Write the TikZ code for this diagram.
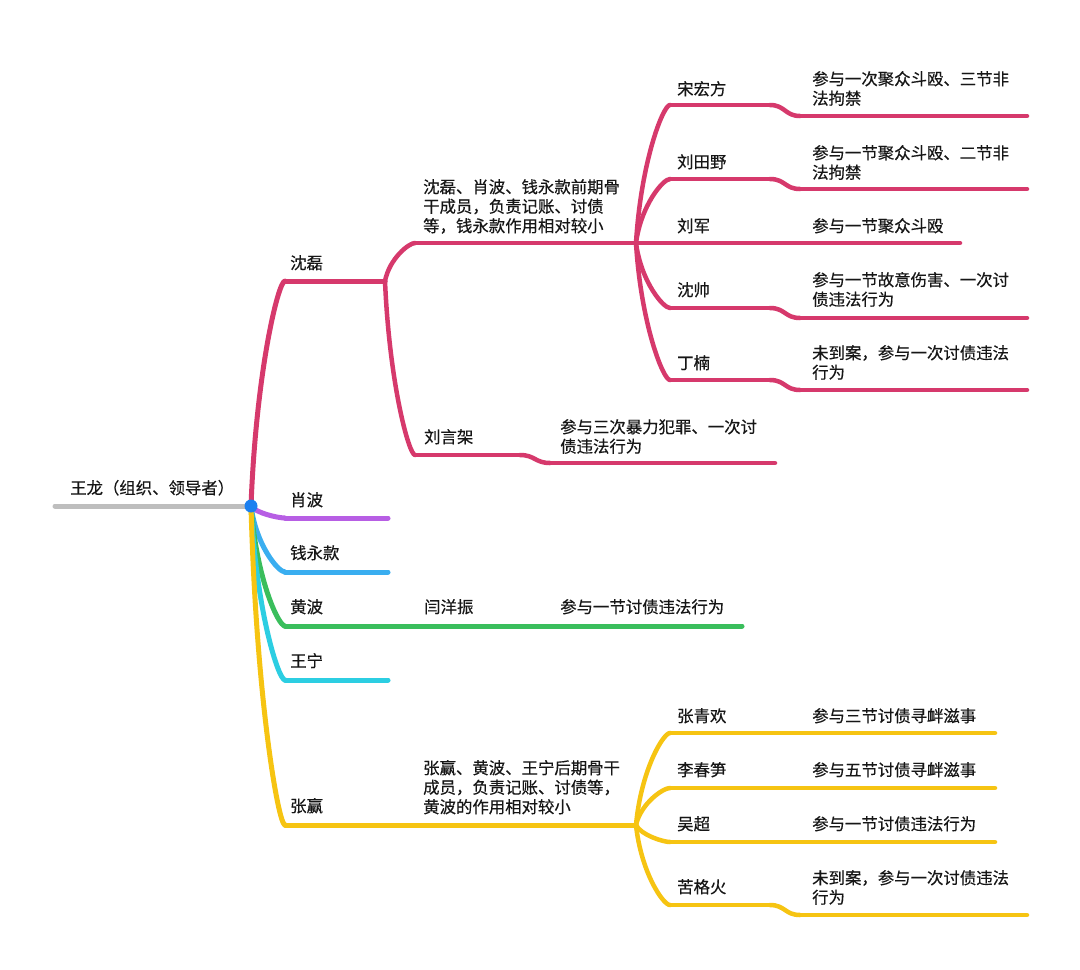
\documentclass[tikz,border=0pt]{standalone}
\usepackage{fontspec}
\setmainfont{Noto Sans CJK SC}[FakeBold=0.4]
\usetikzlibrary{calc}
\definecolor{rose}{RGB}{214,57,108}
\definecolor{lilac}{RGB}{183,94,228}
\definecolor{sky}{RGB}{58,174,240}
\definecolor{leaf}{RGB}{58,190,92}
\definecolor{aqua}{RGB}{44,206,226}
\definecolor{gold}{RGB}{246,196,18}
\definecolor{stem}{RGB}{190,190,190}
\definecolor{hub}{RGB}{28,128,240}
\definecolor{ink}{RGB}{22,22,22}
\def\branch[#1](#2)(#3){\draw[#1] (#2) .. controls ($(#2)!0.7!(#2|-#3)!0.15!(#2-|#3)$) and ($(#2|-#3)!0.8!(#3)$) .. (#3);}
\def\dip[#1](#2)(#3){\draw[#1] (#2) .. controls ($(#2)!0.5!(#2-|#3)$) and ($(#3)!0.5!(#3-|#2)$) .. (#3);}

\begin{document}
\begin{tikzpicture}[x=1pt,y=-1pt,line cap=round,
  lvA/.style={line width=5pt},
  lvB/.style={line width=4.5pt},
  txt/.style={inner sep=0pt,anchor=base west,align=left,text=ink,font=\fontsize{16.4}{19.5}\selectfont}]
			%%%%% START %%%%%
			\useasboundingbox[fill=white] (0,0) rectangle (1080,970);
			
			\coordinate (stemL) at (55,506);
			\coordinate (root) at (251,506);
			
			\coordinate (sl) at (285,281);   \coordinate (slk) at (385,281);
			\coordinate (xb) at (285,518);   \coordinate (xbe) at (388,518);
			\coordinate (qk) at (285,572);   \coordinate (qke) at (388,572);
			\coordinate (hb) at (285,626);   \coordinate (hbe) at (742,626);
			\coordinate (wn) at (285,680);   \coordinate (wne) at (388,680);
			\coordinate (zy) at (285,825);   \coordinate (zyk) at (636,825);
			
			\coordinate (qq) at (415,243);   \coordinate (qqk) at (636,243);
			\coordinate (lyj) at (415,455);  \coordinate (lyjk) at (520,455);
			\coordinate (lyjt) at (550,463); \coordinate (lyje) at (775,463);
			
			\coordinate (shf) at (670,105);  \coordinate (shfk) at (770,105);
			\coordinate (shft) at (800,116); \coordinate (shfe) at (1027,116);
			\coordinate (lty) at (670,179);  \coordinate (ltyk) at (770,179);
			\coordinate (ltyt) at (800,189); \coordinate (ltye) at (1027,189);
			\coordinate (lje) at (960,243);
			\coordinate (ss) at (670,308);   \coordinate (ssk) at (770,308);
			\coordinate (sst) at (800,318);  \coordinate (sse) at (1027,318);
			\coordinate (dn) at (670,380);   \coordinate (dnk) at (770,380);
			\coordinate (dnt) at (800,390);  \coordinate (dne) at (1027,390);
			
			\coordinate (zqh) at (670,733);  \coordinate (zqhe) at (995,733);
			\coordinate (lcs) at (670,788);  \coordinate (lcse) at (995,788);
			\coordinate (wc) at (670,842);   \coordinate (wce) at (995,842);
			\coordinate (kgh) at (670,905);  \coordinate (kghk) at (770,905);
			\coordinate (kght) at (800,915); \coordinate (kghe) at (1027,915);
			
			% trunk
			\draw[lvA, stem] (stemL) -- (root);
			
			% first level
			\branch[lvA, rose](root)(sl);
			\draw[lvA, rose] (sl) -- (slk);
			\branch[lvA, lilac](root)(xb);
			\draw[lvA, lilac] (xb) -- (xbe);
			\branch[lvA, sky](root)(qk);
			\draw[lvA, sky] (qk) -- (qke);
			\branch[lvA, leaf](root)(hb);
			\draw[lvA, leaf] (hb) -- (hbe);
			\branch[lvA, aqua](root)(wn);
			\draw[lvA, aqua] (wn) -- (wne);
			\branch[lvA, gold](root)(zy);
			\draw[lvA, gold] (zy) -- (zyk);
			
			% shen lei
			\branch[lvB, rose](slk)(qq);
			\draw[lvB, rose] (qq) -- (qqk);
			\branch[lvB, rose](slk)(lyj);
			\draw[lvB, rose] (lyj) -- (lyjk);
			\dip[lvB, rose](lyjk)(lyjt);
			\draw[lvB, rose] (lyjt) -- (lyje);
			
			\branch[lvB, rose](qqk)(shf);
			\draw[lvB, rose] (shf) -- (shfk);
			\dip[lvB, rose](shfk)(shft);
			\draw[lvB, rose] (shft) -- (shfe);
			\branch[lvB, rose](qqk)(lty);
			\draw[lvB, rose] (lty) -- (ltyk);
			\dip[lvB, rose](ltyk)(ltyt);
			\draw[lvB, rose] (ltyt) -- (ltye);
			\draw[lvB, rose] (qqk) -- (lje);
			\branch[lvB, rose](qqk)(ss);
			\draw[lvB, rose] (ss) -- (ssk);
			\dip[lvB, rose](ssk)(sst);
			\draw[lvB, rose] (sst) -- (sse);
			\branch[lvB, rose](qqk)(dn);
			\draw[lvB, rose] (dn) -- (dnk);
			\dip[lvB, rose](dnk)(dnt);
			\draw[lvB, rose] (dnt) -- (dne);
			
			% zhang ying
			\branch[lvB, gold](zyk)(zqh);
			\draw[lvB, gold] (zqh) -- (zqhe);
			\branch[lvB, gold](zyk)(lcs);
			\draw[lvB, gold] (lcs) -- (lcse);
			\branch[lvB, gold](zyk)(wc);
			\draw[lvB, gold] (wc) -- (wce);
			\branch[lvB, gold](zyk)(kgh);
			\draw[lvB, gold] (kgh) -- (kghk);
			\dip[lvB, gold](kghk)(kght);
			\draw[lvB, gold] (kght) -- (kghe);
			
			\fill[hub] (root) circle (6.5);
			
			% texts (base = last line)
			\node[txt] (tWL) at (70,494) {王龙（组织、领导者）};
			
			\node[txt] (tSL) at (290,269) {沈磊};
			\node[txt] (tXB) at (290,506) {肖波};
			\node[txt] (tQYK) at (290,559) {钱永款};
			\node[txt] (tHB) at (290,613) {黄波};
			\node[txt] (tWN) at (290,667) {王宁};
			\node[txt] (tZY) at (290,812) {张赢};
			
			\node[txt] (tQQ) at (423,232) {沈磊、肖波、钱永款前期骨\\干成员，负责记账、讨债\\等，钱永款作用相对较小};
			\node[txt] (tLYJ) at (424,443) {刘言架};
			\node[txt] (dLYJ) at (560,452.5) {参与三次暴力犯罪、一次讨\\债违法行为};
			
			\node[txt] (tSHF) at (677,95) {宋宏方};
			\node[txt] (dSHF) at (812,104.5) {参与一次聚众斗殴、三节非\\法拘禁};
			\node[txt] (tLTY) at (677,168) {刘田野};
			\node[txt] (dLTY) at (812,178.5) {参与一节聚众斗殴、二节非\\法拘禁};
			\node[txt] (tLJ) at (677,232) {刘军};
			\node[txt] (dLJ) at (812,232) {参与一节聚众斗殴};
			\node[txt] (tSS) at (677,296) {沈帅};
			\node[txt] (dSS) at (812,305.5) {参与一节故意伤害、一次讨\\债违法行为};
			\node[txt] (tDN) at (677,369) {丁楠};
			\node[txt] (dDN) at (812,378.5) {未到案，参与一次讨债违法\\行为};
			
			\node[txt] (tYYZ) at (424,613) {闫洋振};
			\node[txt] (dYYZ) at (560,613) {参与一节讨债违法行为};
			
			\node[txt] (tHQ) at (423,813) {张赢、黄波、王宁后期骨干\\成员，负责记账、讨债等，\\黄波的作用相对较小};
			\node[txt] (tZQH) at (677,722) {张青欢};
			\node[txt] (dZQH) at (812,722) {参与三节讨债寻衅滋事};
			\node[txt] (tLCS) at (677,776) {李春笋};
			\node[txt] (dLCS) at (812,776) {参与五节讨债寻衅滋事};
			\node[txt] (tWC) at (677,830) {吴超};
			\node[txt] (dWC) at (812,830) {参与一节讨债违法行为};
			\node[txt] (tKGH) at (677,893) {苦格火};
			\node[txt] (dKGH) at (812,903.5) {未到案，参与一次讨债违法\\行为};
			
			%%%%% END %%%%%
\end{tikzpicture}
\end{document}
